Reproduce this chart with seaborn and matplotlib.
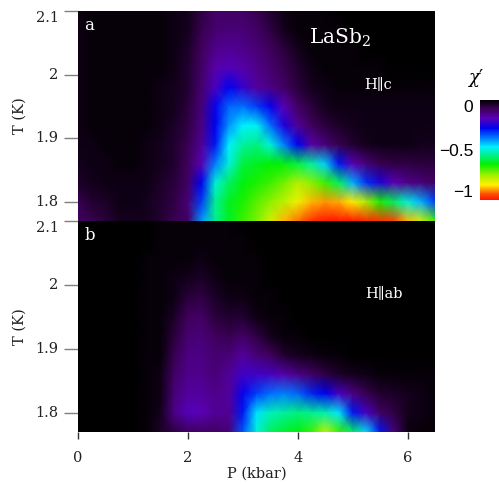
import numpy as np
import matplotlib
matplotlib.use("Agg")
import matplotlib.pyplot as plt
from matplotlib.colors import LinearSegmentedColormap
import seaborn as sns

# axis values of the grid nodes
pressure = [0, .25, .5, .75, 1, 1.25, 1.5, 1.75, 2, 2.25, 2.5, 2.75, 3, 3.25, 3.5, 3.75, 4, 4.25, 4.5, 4.75, 5, 5.25, 5.5, 5.75, 6, 6.25, 6.5]
temperature = [2.10, 2.07, 2.04, 2.01, 1.98, 1.95, 1.92, 1.89, 1.86, 1.83, 1.80, 1.77]

p_ticks = [0, 2, 4, 6]
t_ticks = [2.1, 2.0, 1.9, 1.8]
t_ticklabels = ["2.1", "2", "1.9", "1.8"]
cbar_ticks = [0, -0.5, -1]
cbar_ticklabels = ["0", "\u22120.5", "\u22121"]

# H||c, rows from top (2.10 K) to bottom (1.77 K)
chi_c = [
    [-.02, -.01, -.01, -.01, -.01, -.01, -.01, -.02, -.03, -.07, -.10, -.10, -.10, -.08, -.05, -.02, -.01, -.01, -.01, 0, 0, 0, 0, 0, 0, 0, 0],
    [-.02, -.01, -.01, -.01, -.01, -.01, -.01, -.02, -.03, -.08, -.11, -.12, -.12, -.10, -.07, -.03, -.01, -.01, -.01, -.01, 0, 0, 0, 0, 0, 0, 0],
    [-.02, -.01, -.01, -.01, -.01, -.01, -.01, -.02, -.04, -.09, -.14, -.15, -.14, -.12, -.09, -.06, -.03, -.01, -.01, -.01, -.01, 0, 0, 0, 0, 0, 0],
    [-.02, -.01, -.01, -.01, -.01, -.01, -.01, -.02, -.05, -.10, -.17, -.19, -.17, -.14, -.11, -.08, -.05, -.02, -.01, -.01, -.01, -.01, -.01, 0, 0, 0, 0],
    [-.02, -.01, -.01, -.01, -.01, -.01, -.02, -.03, -.05, -.11, -.20, -.28, -.22, -.16, -.13, -.10, -.06, -.03, -.02, -.01, -.01, -.01, -.01, -.01, -.01, -.01, -.01],
    [-.02, -.01, -.01, -.01, -.01, -.01, -.02, -.03, -.06, -.12, -.27, -.36, -.37, -.33, -.27, -.18, -.10, -.06, -.03, -.02, -.02, -.02, -.02, -.02, -.02, -.02, -.02],
    [-.02, -.01, -.01, -.01, -.01, -.01, -.02, -.04, -.07, -.13, -.28, -.40, -.47, -.48, -.37, -.25, -.15, -.09, -.06, -.04, -.03, -.02, -.02, -.02, -.02, -.02, -.02],
    [-.02, -.02, -.01, -.01, -.01, -.02, -.03, -.05, -.08, -.15, -.30, -.47, -.54, -.56, -.50, -.38, -.28, -.17, -.12, -.08, -.05, -.03, -.02, -.02, -.02, -.03, -.03],
    [-.03, -.02, -.02, -.01, -.01, -.02, -.03, -.05, -.09, -.18, -.38, -.50, -.60, -.62, -.64, -.63, -.60, -.54, -.44, -.30, -.18, -.12, -.08, -.07, -.07, -.06, -.06],
    [-.04, -.03, -.02, -.02, -.02, -.02, -.04, -.06, -.10, -.28, -.50, -.58, -.63, -.66, -.68, -.72, -.77, -.74, -.68, -.58, -.42, -.32, -.25, -.18, -.14, -.12, -.10],
    [-.08, -.05, -.04, -.02, -.02, -.03, -.05, -.07, -.12, -.33, -.55, -.62, -.66, -.70, -.74, -.78, -.83, -.88, -.90, -.89, -.85, -.76, -.66, -.58, -.50, -.42, -.33],
    [-.10, -.08, -.06, -.03, -.03, -.03, -.05, -.08, -.10, -.40, -.55, -.62, -.68, -.73, -.80, -.88, -.92, -.97, -1, -1, -1, -.98, -.97, -.95, -.88, -.80, -.68],
]

# H||ab, same grid
chi_ab = [
    [0, 0, 0, 0, 0, 0, -.01, -.01, -.01, -.01, -.01, -.01, 0, 0, 0, 0, 0, 0, 0, 0, 0, 0, 0, 0, 0, 0, 0],
    [0, 0, 0, 0, 0, 0, -.01, -.01, -.01, -.01, -.01, -.01, -.01, 0, 0, 0, 0, 0, 0, 0, 0, 0, 0, 0, 0, 0, 0],
    [0, 0, 0, 0, 0, -.01, -.01, -.01, -.01, -.02, -.01, -.01, -.01, -.01, 0, 0, 0, 0, 0, 0, 0, 0, 0, 0, 0, 0, 0],
    [0, 0, 0, 0, 0, -.01, -.01, -.02, -.03, -.04, -.02, -.01, -.01, -.01, 0, 0, 0, 0, 0, 0, 0, 0, 0, 0, 0, 0, 0],
    [0, 0, 0, 0, 0, -.01, -.01, -.02, -.06, -.07, -.04, -.02, -.02, -.01, -.01, 0, 0, 0, 0, 0, 0, 0, 0, 0, 0, 0, 0],
    [0, 0, 0, 0, 0, -.01, -.01, -.04, -.09, -.10, -.06, -.05, -.05, -.02, -.01, -.01, 0, 0, 0, 0, 0, 0, 0, 0, 0, 0, 0],
    [0, 0, 0, 0, 0, -.01, -.01, -.06, -.11, -.12, -.09, -.08, -.10, -.07, -.03, -.01, -.01, 0, 0, 0, 0, 0, 0, 0, 0, 0, 0],
    [0, 0, 0, 0, 0, -.01, -.01, -.08, -.13, -.13, -.11, -.12, -.16, -.12, -.09, -.05, -.03, -.02, -.01, -.01, 0, 0, 0, 0, 0, 0, 0],
    [0, 0, 0, 0, 0, -.01, -.02, -.10, -.14, -.14, -.12, -.15, -.21, -.21, -.20, -.17, -.13, -.10, -.07, -.04, -.03, -.02, -.01, -.01, -.01, -.01, -.01],
    [0, 0, 0, 0, 0, -.01, -.02, -.12, -.16, -.16, -.14, -.16, -.27, -.33, -.37, -.38, -.36, -.31, -.28, -.20, -.13, -.08, -.05, -.04, -.03, -.02, -.01],
    [0, 0, 0, 0, 0, -.01, -.03, -.13, -.19, -.18, -.15, -.15, -.30, -.46, -.52, -.54, -.56, -.55, -.53, -.46, -.30, -.20, -.10, -.07, -.03, -.02, -.01],
    [0, 0, 0, 0, 0, -.01, -.04, -.07, -.09, -.10, -.10, -.12, -.35, -.50, -.58, -.61, -.63, -.68, -.78, -.68, -.58, -.45, -.30, -.12, -.02, -.01, -.01],
]

# rainbow table, black at zero and red at -1
chi_cmap = LinearSegmentedColormap.from_list("chi", [
    (0.00, "#ff1500"), (0.06, "#ff5000"), (0.15, "#fff000"), (0.24, "#a8f000"), (0.36, "#00f000"),
    (0.46, "#00f0a0"), (0.53, "#00f0ff"), (0.63, "#0070ff"), (0.72, "#0000f0"), (0.82, "#5a00b4"),
    (0.91, "#40005c"), (1.00, "#000000"),
], N=256)

sns.set_style("white")
plt.rcParams["font.family"] = ["DejaVu Serif"]

W, H = 499, 484
fig = plt.figure(figsize=(W / 100, H / 100), dpi=100)


def px_axes(x0, y0, x1, y1):
    return fig.add_axes([x0 / W, 1 - y1 / H, (x1 - x0) / W, (y1 - y0) / H])


ax_a = px_axes(78, 11, 435, 221)
ax_b = px_axes(78, 221, 435, 432)
cax = px_axes(480, 100, 499, 200)

dp = pressure[1] - pressure[0]
dt = temperature[0] - temperature[1]

sns.heatmap(np.array(chi_c), ax=ax_a, cmap=chi_cmap, vmin=-1, vmax=0, cbar=True, cbar_ax=cax, shading="gouraud")
sns.heatmap(np.array(chi_ab), ax=ax_b, cmap=chi_cmap, vmin=-1, vmax=0, cbar=False, shading="gouraud")

for ax in (ax_a, ax_b):
    ax.set_xlim(0, len(pressure) - 1)
    ax.set_ylim(len(temperature) - 1, 0)
    ax.set_yticks([(temperature[0] - t) / dt for t in t_ticks])
    ax.set_yticklabels(t_ticklabels, rotation=0, fontsize=10.5, color="#222222")
    ax.tick_params(axis="y", length=10, width=1, color="#808080", pad=4, left=True)
    ax.set_ylabel("T (K)", fontsize=10.5, color="#222222", labelpad=6)
    for sp in ax.spines.values():
        sp.set_visible(False)
    # top label sits below its tick
    ax.get_yticklabels()[0].set_verticalalignment("top")

ax_a.set_xticks([])
ax_a.set_xlabel("")
ax_b.set_xticks([p / dp for p in p_ticks])
ax_b.set_xticklabels([str(p) for p in p_ticks], rotation=0, fontsize=10.5, color="#222222")
ax_b.tick_params(axis="x", length=5, width=1, color="#333333", pad=9, bottom=True)
ax_b.set_xlabel("P (kbar)", fontsize=10.5, color="#222222", labelpad=1)

cax.set_yticks(cbar_ticks)
cax.set_yticklabels(cbar_ticklabels, family="Liberation Sans", fontsize=12.5, color="black")
cax.yaxis.set_ticks_position("left")
cax.tick_params(axis="y", length=0, pad=5, left=False, right=False)
cax.get_yticklabels()[0].set_verticalalignment("top")
cax.get_yticklabels()[2].set_verticalalignment("bottom")
cax.minorticks_off()


def px_text(x, y, s, **kw):
    fig.text(x / W, 1 - y / H, s, ha="center", va="center", **kw)


px_text(89, 25, "a", color="white", fontsize=12)
px_text(90, 236, "b", color="white", fontsize=12)
px_text(340, 38, "LaSb$_2$", color="white", fontsize=14.5, math_fontfamily="dejavuserif")
px_text(378, 84, "H\u2225c", color="white", fontsize=10.5)
px_text(384, 293, "H\u2225ab", color="white", fontsize=10.5)
px_text(476, 78, "$\\chi$\u2032", color="black", fontsize=13, math_fontfamily="dejavuserif")

fig.savefig("out.png", dpi=100)
